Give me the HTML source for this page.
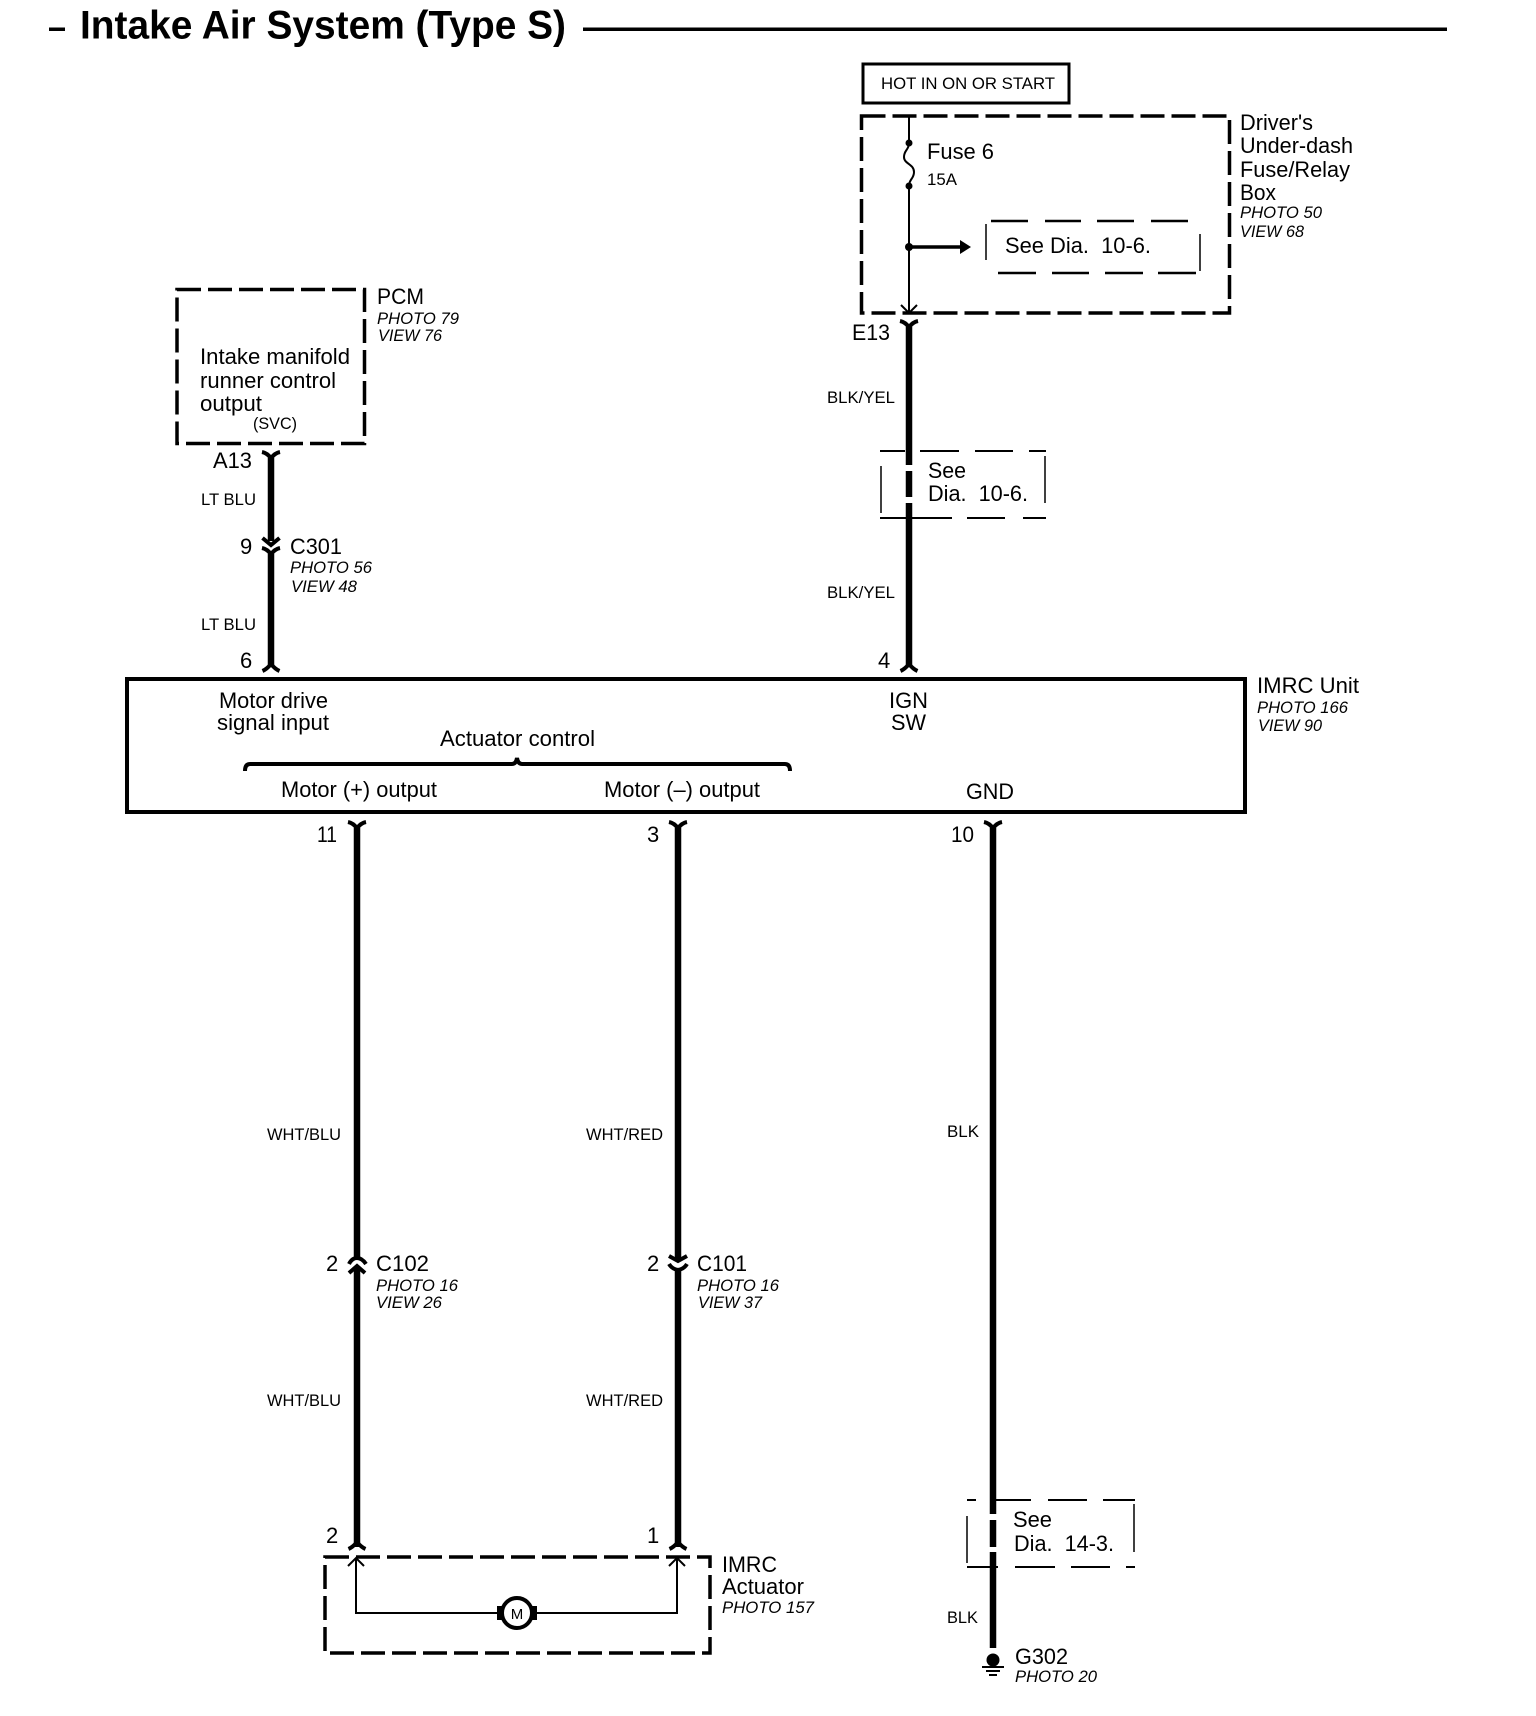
<!DOCTYPE html>
<html><head><meta charset="utf-8"><style>
html,body{margin:0;padding:0;background:#fff}
svg{display:block}
text{font-family:"Liberation Sans",sans-serif;fill:#000}
.t{font-size:40px;font-weight:bold}
.l{font-size:22px}
.s{font-size:17px}
.i{font-size:16.4px;font-style:italic}
.w{stroke:#000;stroke-width:6.5;fill:none}
.f{stroke:#000;stroke-width:4;fill:none}
.th{stroke:#000;stroke-width:2;fill:none}
.d{stroke:#000;stroke-width:3.5;fill:none;stroke-dasharray:24 7}
.n{stroke:#000;stroke-width:2;fill:none}
</style></head><body>
<svg width="1536" height="1716" viewBox="0 0 1536 1716" xmlns="http://www.w3.org/2000/svg">
<defs>
<path id="y" class="f" d="M-9,1 Q-4,2 0,7 Q4,2 9,1"/>
<path id="u" class="f" d="M-8.5,8 Q-4,6 0,1 Q4,6 8.5,8"/>
<path id="ta" class="th" d="M-8,-8 L0,0 L8,-8"/>
<path id="tu" class="th" d="M-8,8 L0,0 L8,8"/>
</defs>
<rect width="1536" height="1716" fill="#fff"/>

<!-- Title -->
<rect x="49" y="27.5" width="16" height="3.5"/>
<text class="t" x="80" y="38.5" textLength="486" lengthAdjust="spacingAndGlyphs">Intake Air System (Type S)</text>
<rect x="583" y="27.5" width="864" height="3.5"/>

<!-- PCM -->
<rect class="d" x="177" y="289.5" width="187.5" height="154"/>
<text class="l" x="377" y="304" textLength="47" lengthAdjust="spacingAndGlyphs">PCM</text>
<text class="i" x="377" y="324" textLength="82" lengthAdjust="spacingAndGlyphs">PHOTO 79</text>
<text class="i" x="378" y="341" textLength="64" lengthAdjust="spacingAndGlyphs">VIEW 76</text>
<text class="l" x="200" y="364" textLength="150" lengthAdjust="spacingAndGlyphs">Intake manifold</text>
<text class="l" x="200" y="388" textLength="136" lengthAdjust="spacingAndGlyphs">runner control</text>
<text class="l" x="200" y="411" textLength="62" lengthAdjust="spacingAndGlyphs">output</text>
<text class="s" x="253" y="429" textLength="44" lengthAdjust="spacingAndGlyphs">(SVC)</text>
<text class="l" x="213" y="468" textLength="39" lengthAdjust="spacingAndGlyphs">A13</text>
<use href="#y" x="271" y="451"/>
<line class="w" x1="271" y1="456" x2="271" y2="541"/>
<text class="s" x="201" y="505" textLength="55" lengthAdjust="spacingAndGlyphs">LT BLU</text>
<text class="l" x="240" y="554">9</text>
<path class="f" d="M262.5,538 L271,545 L279.5,538"/>
<use href="#y" x="271" y="547"/>
<text class="l" x="290" y="554" textLength="52" lengthAdjust="spacingAndGlyphs">C301</text>
<text class="i" x="290" y="573" textLength="82" lengthAdjust="spacingAndGlyphs">PHOTO 56</text>
<text class="i" x="291" y="592" textLength="66" lengthAdjust="spacingAndGlyphs">VIEW 48</text>
<line class="w" x1="271" y1="552" x2="271" y2="666"/>
<text class="s" x="201" y="630" textLength="55" lengthAdjust="spacingAndGlyphs">LT BLU</text>
<text class="l" x="240" y="668">6</text>
<use href="#u" x="271" y="663"/>

<!-- Unit box -->
<rect x="127" y="679" width="1118" height="133" fill="none" stroke="#000" stroke-width="4"/>
<text class="l" x="219" y="708" textLength="109" lengthAdjust="spacingAndGlyphs">Motor drive</text>
<text class="l" x="217" y="730" textLength="112" lengthAdjust="spacingAndGlyphs">signal input</text>
<text class="l" x="440" y="746" textLength="155" lengthAdjust="spacingAndGlyphs">Actuator control</text>
<path d="M245,771 Q245,764 250,764 L512,764 Q516,764 517,758 Q518,764 522,764 L785,764 Q790,764 790,771" fill="none" stroke="#000" stroke-width="4"/>
<text class="l" x="281" y="797" textLength="156" lengthAdjust="spacingAndGlyphs">Motor (+) output</text>
<text class="l" x="604" y="797" textLength="156" lengthAdjust="spacingAndGlyphs">Motor (–) output</text>
<text class="l" x="889" y="708" textLength="39" lengthAdjust="spacingAndGlyphs">IGN</text>
<text class="l" x="891" y="730" textLength="35" lengthAdjust="spacingAndGlyphs">SW</text>
<text class="l" x="966" y="799" textLength="48" lengthAdjust="spacingAndGlyphs">GND</text>
<text class="l" x="1257" y="693" textLength="102" lengthAdjust="spacingAndGlyphs">IMRC Unit</text>
<text class="i" x="1257" y="713" textLength="91" lengthAdjust="spacingAndGlyphs">PHOTO 166</text>
<text class="i" x="1258" y="731" textLength="64" lengthAdjust="spacingAndGlyphs">VIEW 90</text>

<!-- HOT box -->
<rect x="863" y="64" width="206" height="39" fill="none" stroke="#000" stroke-width="3"/>
<text class="s" x="881" y="89" textLength="174" lengthAdjust="spacingAndGlyphs">HOT IN ON OR START</text>

<!-- Fuse box -->
<rect class="d" x="861.5" y="116" width="368" height="197"/>
<line class="n" x1="909" y1="116" x2="909" y2="143"/>
<circle cx="909" cy="143" r="3.5"/>
<path class="n" d="M909,143 C909,150 904,150 904,157 C904,164 914,164 914,172 C914,179 909,179 909,186"/>
<circle cx="909" cy="186" r="3.5"/>
<line class="n" x1="909" y1="186" x2="909" y2="313"/>
<text class="l" x="927" y="159" textLength="67" lengthAdjust="spacingAndGlyphs">Fuse 6</text>
<text class="s" x="927" y="185" textLength="30" lengthAdjust="spacingAndGlyphs">15A</text>
<circle cx="909" cy="247" r="4"/>
<line x1="909" y1="247" x2="962" y2="247" stroke="#000" stroke-width="3.5"/>
<path d="M960,240 L971,247 L960,254Z"/>
<g stroke="#000" stroke-width="2.5">
<line x1="991" y1="221" x2="1028" y2="221"/><line x1="1045" y1="221" x2="1081" y2="221"/><line x1="1097" y1="221" x2="1134" y2="221"/><line x1="1151" y1="221" x2="1188" y2="221"/>
<line x1="998" y1="273" x2="1036" y2="273"/><line x1="1052" y1="273" x2="1089" y2="273"/><line x1="1105" y1="273" x2="1143" y2="273"/><line x1="1158" y1="273" x2="1196" y2="273"/>
</g>
<line x1="986" y1="224" x2="986" y2="260" stroke="#000" stroke-width="1.5"/>
<line x1="1200" y1="234" x2="1200" y2="271" stroke="#000" stroke-width="1.5"/>
<text class="l" x="1005" y="253" textLength="146" lengthAdjust="spacingAndGlyphs" xml:space="preserve">See Dia.  10-6.</text>
<text class="l" x="1240" y="130" textLength="73" lengthAdjust="spacingAndGlyphs">Driver's</text>
<text class="l" x="1240" y="153" textLength="113" lengthAdjust="spacingAndGlyphs">Under-dash</text>
<text class="l" x="1240" y="177" textLength="110" lengthAdjust="spacingAndGlyphs">Fuse/Relay</text>
<text class="l" x="1240" y="200" textLength="36" lengthAdjust="spacingAndGlyphs">Box</text>
<text class="i" x="1240" y="218" textLength="82" lengthAdjust="spacingAndGlyphs">PHOTO 50</text>
<text class="i" x="1240" y="237" textLength="64" lengthAdjust="spacingAndGlyphs">VIEW 68</text>
<use href="#ta" x="909" y="313"/>

<!-- E13 wire -->
<use href="#y" x="909" y="320"/>
<text class="l" x="852" y="340" textLength="38" lengthAdjust="spacingAndGlyphs">E13</text>
<line class="w" x1="909" y1="325" x2="909" y2="465"/>
<line class="w" x1="909" y1="471" x2="909" y2="497"/>
<line class="w" x1="909" y1="503" x2="909" y2="666"/>
<text class="s" x="827" y="403" textLength="68" lengthAdjust="spacingAndGlyphs">BLK/YEL</text>
<text class="s" x="827" y="598" textLength="68" lengthAdjust="spacingAndGlyphs">BLK/YEL</text>
<g stroke="#000" stroke-width="2">
<line x1="880" y1="451" x2="905" y2="451"/><line x1="920" y1="451" x2="959" y2="451"/><line x1="975" y1="451" x2="1013" y2="451"/><line x1="1029" y1="451" x2="1046" y2="451"/>
<line x1="880" y1="518" x2="952" y2="518"/><line x1="967" y1="518" x2="1005" y2="518"/><line x1="1023" y1="518" x2="1046" y2="518"/>
</g>
<line x1="881" y1="466" x2="881" y2="513" stroke="#000" stroke-width="1.5"/>
<line x1="1045" y1="456" x2="1045" y2="503" stroke="#000" stroke-width="1.5"/>
<text class="l" x="928" y="478" textLength="38" lengthAdjust="spacingAndGlyphs">See</text>
<text class="l" x="928" y="501" textLength="100" lengthAdjust="spacingAndGlyphs" xml:space="preserve">Dia.  10-6.</text>
<text class="l" x="878" y="668">4</text>
<use href="#u" x="909" y="663"/>

<!-- Lower wires -->
<text class="l" x="317" y="842" textLength="20" lengthAdjust="spacingAndGlyphs">11</text>
<use href="#y" x="357" y="821"/>
<line class="w" x1="357" y1="826" x2="357" y2="1257"/>
<text class="l" x="647" y="842">3</text>
<use href="#y" x="678" y="821"/>
<line class="w" x1="678" y1="826" x2="678" y2="1260"/>
<text class="l" x="951" y="842" textLength="23" lengthAdjust="spacingAndGlyphs">10</text>
<use href="#y" x="993" y="821"/>
<line class="w" x1="993" y1="826" x2="993" y2="1514"/>
<line class="w" x1="993" y1="1520" x2="993" y2="1547"/>
<line class="w" x1="993" y1="1552" x2="993" y2="1648"/>

<text class="s" x="267" y="1140" textLength="74" lengthAdjust="spacingAndGlyphs">WHT/BLU</text>
<text class="s" x="586" y="1140" textLength="77" lengthAdjust="spacingAndGlyphs">WHT/RED</text>
<text class="s" x="947" y="1137" textLength="32" lengthAdjust="spacingAndGlyphs">BLK</text>
<text class="s" x="267" y="1406" textLength="74" lengthAdjust="spacingAndGlyphs">WHT/BLU</text>
<text class="s" x="586" y="1406" textLength="77" lengthAdjust="spacingAndGlyphs">WHT/RED</text>

<!-- C102 / C101 -->
<text class="l" x="326" y="1271">2</text>
<path class="f" d="M349,1264 Q352,1258 357,1258 Q362,1258 366,1264"/>
<path class="f" d="M349,1273 L357,1266 L365,1273"/>
<line class="w" x1="357" y1="1267" x2="357" y2="1547"/>
<text class="l" x="376" y="1271" textLength="53" lengthAdjust="spacingAndGlyphs">C102</text>
<text class="i" x="376" y="1291" textLength="82" lengthAdjust="spacingAndGlyphs">PHOTO 16</text>
<text class="i" x="376" y="1308" textLength="66" lengthAdjust="spacingAndGlyphs">VIEW 26</text>
<text class="l" x="647" y="1271">2</text>
<path class="f" d="M669,1256 L678,1261 L687,1256"/>
<path class="f" d="M669,1264 Q672,1269 678,1270 Q684,1269 687,1264"/>
<line class="w" x1="678" y1="1269" x2="678" y2="1547"/>
<text class="l" x="697" y="1271" textLength="50" lengthAdjust="spacingAndGlyphs">C101</text>
<text class="i" x="697" y="1291" textLength="82" lengthAdjust="spacingAndGlyphs">PHOTO 16</text>
<text class="i" x="698" y="1308" textLength="64" lengthAdjust="spacingAndGlyphs">VIEW 37</text>

<!-- Actuator -->
<text class="l" x="326" y="1543">2</text>
<text class="l" x="647" y="1543">1</text>
<use href="#u" x="357" y="1541"/>
<use href="#u" x="678" y="1541"/>
<rect class="d" x="325" y="1557" width="385" height="96"/>
<use href="#tu" x="356" y="1558"/>
<use href="#tu" x="677" y="1558"/>
<path class="n" d="M356,1558 L356,1613 L497,1613 M537,1613 L677,1613 L677,1558"/>
<rect x="497" y="1606" width="6" height="14"/>
<rect x="531" y="1606" width="6" height="14"/>
<circle cx="517" cy="1613" r="15" fill="#fff" stroke="#000" stroke-width="4"/>
<text x="517" y="1619" font-size="15" text-anchor="middle">M</text>
<text class="l" x="722" y="1572" textLength="55" lengthAdjust="spacingAndGlyphs">IMRC</text>
<text class="l" x="722" y="1594" textLength="82" lengthAdjust="spacingAndGlyphs">Actuator</text>
<text class="i" x="722" y="1613" textLength="92" lengthAdjust="spacingAndGlyphs">PHOTO 157</text>

<!-- G302 -->
<g stroke="#000" stroke-width="2">
<line x1="967" y1="1500" x2="976" y2="1500"/><line x1="996" y1="1500" x2="1031" y2="1500"/><line x1="1048" y1="1500" x2="1087" y2="1500"/><line x1="1103" y1="1500" x2="1135" y2="1500"/>
<line x1="967" y1="1567" x2="998" y2="1567"/><line x1="1015" y1="1567" x2="1055" y2="1567"/><line x1="1071" y1="1567" x2="1110" y2="1567"/><line x1="1126" y1="1567" x2="1135" y2="1567"/>
</g>
<line x1="967" y1="1516" x2="967" y2="1563" stroke="#000" stroke-width="1.5"/>
<line x1="1134" y1="1504" x2="1134" y2="1552" stroke="#000" stroke-width="1.5"/>
<text class="l" x="1013" y="1527" textLength="39" lengthAdjust="spacingAndGlyphs">See</text>
<text class="l" x="1014" y="1551" textLength="100" lengthAdjust="spacingAndGlyphs" xml:space="preserve">Dia.  14-3.</text>
<text class="s" x="947" y="1623" textLength="31" lengthAdjust="spacingAndGlyphs">BLK</text>
<circle cx="993" cy="1660" r="6.5"/>
<rect x="982" y="1666" width="22" height="2"/>
<rect x="986" y="1670" width="14" height="2"/>
<rect x="989" y="1674" width="8" height="2"/>
<text class="l" x="1015" y="1664" textLength="53" lengthAdjust="spacingAndGlyphs">G302</text>
<text class="i" x="1015" y="1682" textLength="82" lengthAdjust="spacingAndGlyphs">PHOTO 20</text>
</svg>
</body></html>
